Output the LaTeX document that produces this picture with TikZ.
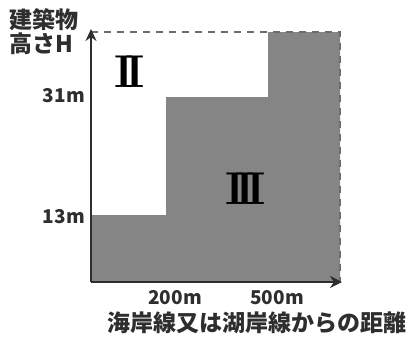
\documentclass[tikz,border=0pt]{standalone}
\usepackage{fontspec}
\newfontfamily\jp{Noto Sans CJK JP}
\usetikzlibrary{arrows.meta}
\definecolor{areagray}{HTML}{858585}
\definecolor{ink}{HTML}{2E2E2E}
\begin{document}
\begin{tikzpicture}[x=1pt,y=-1pt,
  axisline/.style={draw=ink, line width=1.6pt, -{Stealth[length=12pt,width=11pt]}},
  xaxisline/.style={draw=ink, line width=2.6pt, -{Stealth[length=12pt,width=12pt]}},
  dashline/.style={draw=ink!70, line width=1.4pt, dash pattern=on 7pt off 6pt},
  jplabel/.style={font=\jp\bfseries\fontsize{23}{26}\selectfont, text=ink, inner sep=0pt},
  numlabel/.style={font=\jp\bfseries\fontsize{19}{22}\selectfont, text=ink, inner sep=0pt},
  roman/.style={font=\bfseries\fontsize{46}{50}\selectfont, text=black, inner sep=0pt}]
\useasboundingbox (0,0) rectangle (411,340);
\fill[white] (0,0) rectangle (411,340);
\coordinate (O) at (91,282);
\coordinate (Ytip) at (91,29);
\coordinate (Xtip) at (342,282);
\coordinate (TL) at (91,32);
\coordinate (TR) at (340,32);
\coordinate (BR) at (340,282);
\coordinate (A) at (91,215);
\coordinate (B) at (166,215);
\coordinate (C) at (166,97);
\coordinate (D) at (268,97);
\coordinate (E) at (268,32);
\fill[areagray] (O) -- (A) -- (B) -- (C) -- (D) -- (E) -- (TR) -- (BR) -- cycle;
\draw[dashline] (TL) -- (TR) -- (BR);
\draw[axisline] (O) -- (Ytip);
\draw[xaxisline] (O) -- (Xtip);
\node[jplabel, anchor=west] (t1) at (9,20) {建築物};
\node[jplabel, anchor=west] (t2) at (9,44) {高さH};
\node[numlabel, anchor=east] (y31) at (85,96) {31m};
\node[numlabel, anchor=east] (y13) at (85,217) {13m};
\node[numlabel] (x200) at (175,298) {200m};
\node[numlabel] (x500) at (277,298) {500m};
\node[jplabel, anchor=west] (xl) at (107,323) {海岸線又は湖岸線からの距離};
\node[roman] (r2) at (129.5,71.5) {I\kern-9pt I};
\node[roman] (r3) at (245.5,188.5) {I\kern-9pt I\kern-9pt I};
\end{tikzpicture}
\end{document}
